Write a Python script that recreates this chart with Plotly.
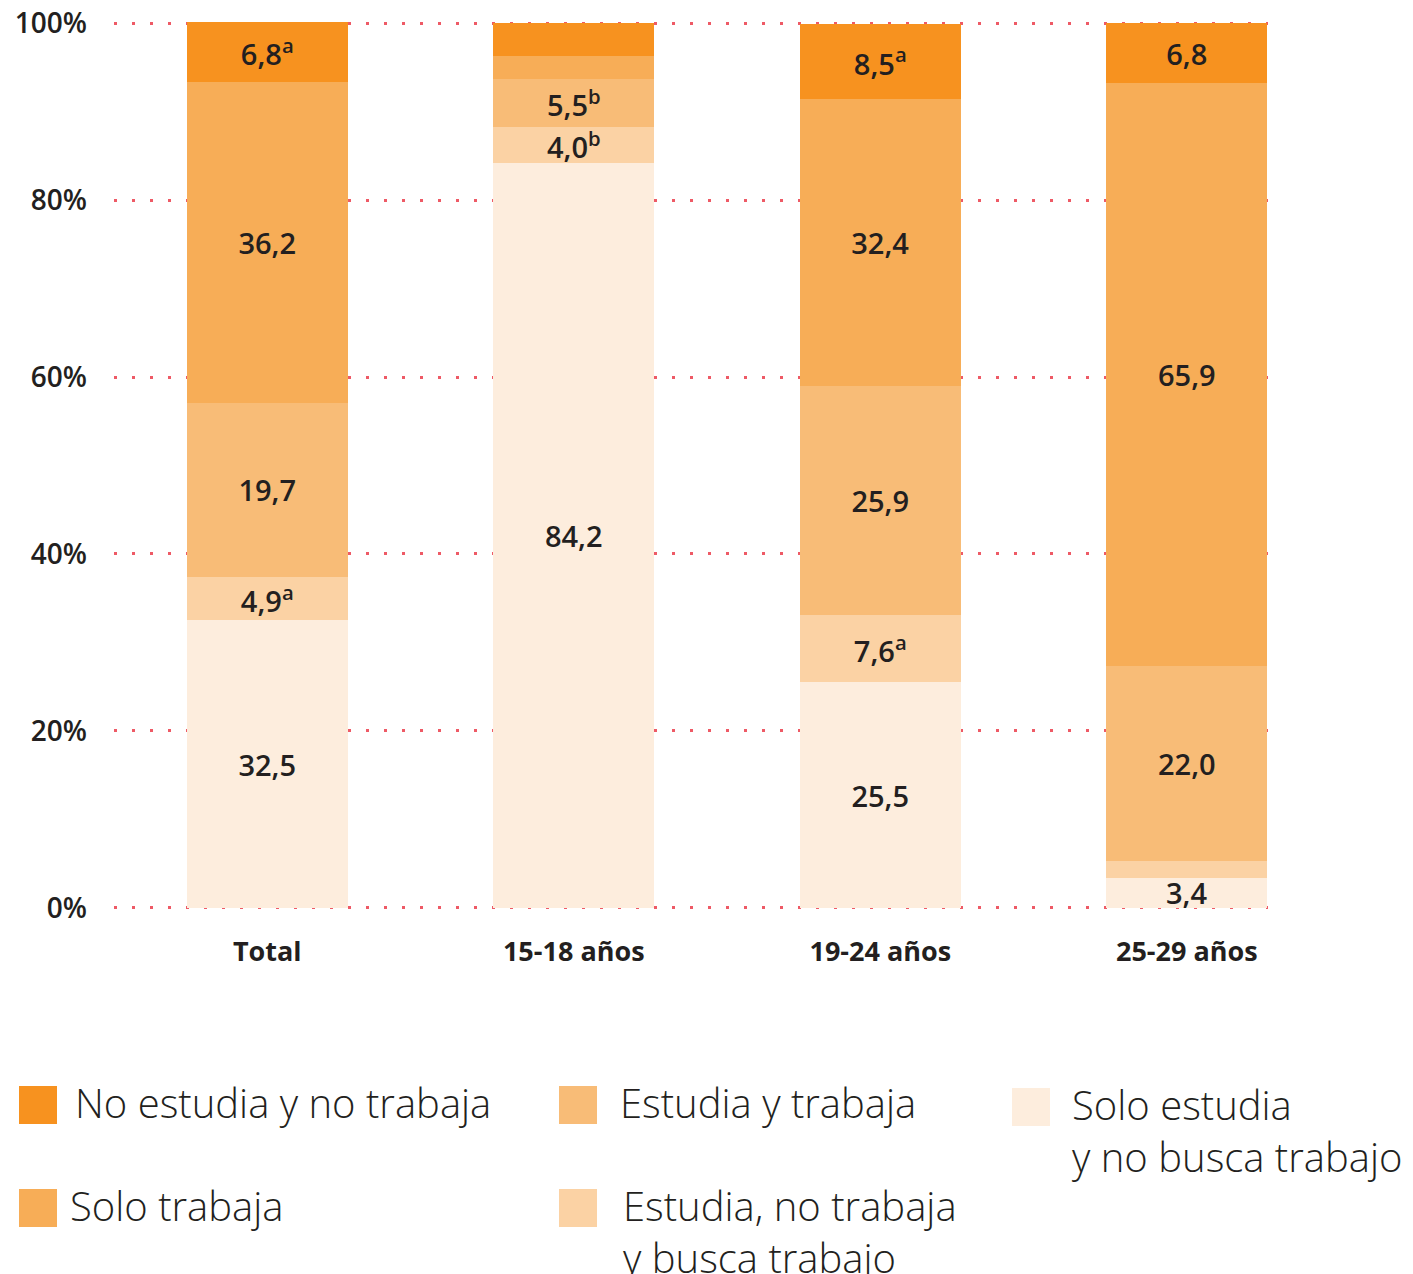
import plotly.graph_objects as go

# ---------------- data ----------------
categories = ["Total", "15-18 años", "19-24 años", "25-29 años"]

series_names = [
    "Solo estudia<br>y no busca trabajo",
    "Estudia, no trabaja<br>y busca trabajo",
    "Estudia y trabaja",
    "Solo trabaja",
    "No estudia y no trabaja",
]
solo_estudia = [32.5, 84.2, 25.5, 3.4]
estudia_busca = [4.9, 4.0, 7.6, 1.9]
estudia_trabaja = [19.7, 5.5, 25.9, 22.0]
solo_trabaja = [36.2, 2.6, 32.4, 65.9]
no_estudia = [6.8, 3.7, 8.5, 6.8]

notes_solo_estudia = ["", "", "", ""]
notes_estudia_busca = ["a", "b", "a", ""]
notes_estudia_trabaja = ["", "b", "", ""]
notes_solo_trabaja = ["", "", "", ""]
notes_no_estudia = ["a", "", "a", ""]

show_solo_estudia = [True, True, True, True]
show_estudia_busca = [True, True, True, False]
show_estudia_trabaja = [True, True, True, True]
show_solo_trabaja = [True, False, True, True]
show_no_estudia = [True, False, True, True]

colors = ["#FDEDDD", "#FBD2A4", "#F8BC77", "#F7AD57", "#F7921F"]

y_ticks = [0, 20, 40, 60, 80, 100]

values = [solo_estudia, estudia_busca, estudia_trabaja, solo_trabaja, no_estudia]
notes = [notes_solo_estudia, notes_estudia_busca, notes_estudia_trabaja,
         notes_solo_trabaja, notes_no_estudia]
shows = [show_solo_estudia, show_estudia_busca, show_estudia_trabaja,
         show_solo_trabaja, show_no_estudia]

FONT = "Open Sans"
TXT = "#231F20"

W, H = 1413, 1274
L, R, T, B = 114, 145, 22, 365
PW, PH = W - L - R, H - T - B


def label(v, n, s):
    if not s:
        return ""
    t = f"{v:.1f}".replace(".", ",")
    if n:
        t += f"<sup>{n}</sup>"
    return t


fig = go.Figure()
xs = list(range(len(categories)))
for name, vals, nts, shw, col in zip(series_names, values, notes, shows, colors):
    fig.add_trace(go.Bar(
        x=xs, y=vals, name=name,
        marker=dict(color=col, line=dict(width=0)),
        text=[label(v, n, s) for v, n, s in zip(vals, nts, shw)],
        textposition="inside", insidetextanchor="middle",
        textfont=dict(family=FONT, size=29, color=TXT, weight=600),
        width=0.525, showlegend=False, hoverinfo="skip",
    ))

fig.update_layout(
    barmode="stack",
    width=W, height=H,
    margin=dict(l=L, r=R, t=T, b=B, autoexpand=False),
    paper_bgcolor="white", plot_bgcolor="white",
    uniformtext=dict(mode="show", minsize=29),
    xaxis=dict(
        range=[-0.5, 3.265], tickmode="array", tickvals=xs, ticktext=categories,
        showgrid=False, zeroline=False, showline=False, ticks="",
        tickfont=dict(family=FONT, size=27, color=TXT, weight=700),
        ticklabelstandoff=24, automargin=False,
    ),
    yaxis=dict(
        range=[-0.12, 100.12], tickmode="array", tickvals=y_ticks,
        ticktext=[f"{v}%" for v in y_ticks],
        showgrid=True, gridcolor="#EE5A66", gridwidth=3, griddash="3px,15px",
        zeroline=False, showline=False, ticks="",
        tickfont=dict(family=FONT, size=28, color=TXT, weight=600),
        ticklabelstandoff=26, automargin=False,
    ),
)

# ---------------- custom legend ----------------
def px_x(p):
    return (p - L) / PW


def px_y(p):
    return (T + PH - p) / PH


legend_items = [
    # (series index, square left px, square top px, text left px)
    (4, 19, 1086, 73),
    (3, 19, 1189, 68),
    (2, 559, 1086, 618),
    (1, 559, 1189, 621),
    (0, 1012, 1088, 1070),
]
SQ = 38
for idx, sx, sy, tx in legend_items:
    fig.add_shape(type="rect", xref="paper", yref="paper",
                  x0=px_x(sx), x1=px_x(sx + SQ), y0=px_y(sy + SQ), y1=px_y(sy),
                  fillcolor=colors[idx], line=dict(width=0), layer="above")
    fig.add_annotation(xref="paper", yref="paper",
                       x=px_x(tx), y=px_y(sy - 13), xanchor="left", yanchor="top",
                       text=series_names[idx], showarrow=False, align="left",
                       font=dict(family=FONT, size=40, color=TXT, weight=300))

fig.write_html("out.html", config={"displayModeBar": False},
               post_script="document.body.style.margin='0px';")
